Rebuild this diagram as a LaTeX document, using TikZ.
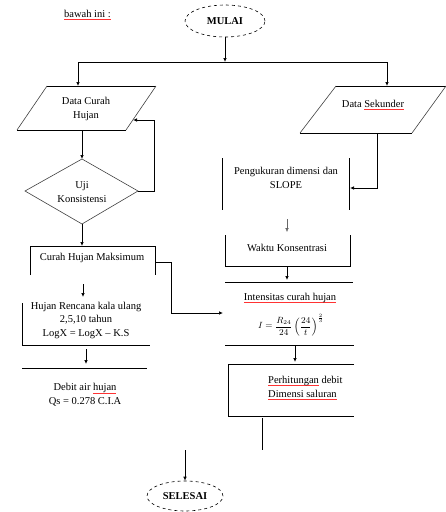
\documentclass[tikz,border=0pt]{standalone}
\usepackage{fontspec}
\setmainfont{Liberation Serif}
\usetikzlibrary{arrows.meta,shapes.geometric}
\newsavebox\spellbox
\newcommand\spellmark[1]{\sbox\spellbox{#1}\leavevmode\rlap{\textcolor{red!80}{\rule[-2.2pt]{\wd\spellbox}{0.45pt}}}\usebox\spellbox}
\begin{document}
\begin{tikzpicture}[x=1pt,y=-1pt,
  txt/.style={font=\fontsize{10.5}{14}\selectfont,align=center,inner sep=0pt},
  term/.style={ellipse,draw,dashed,line width=0.6pt,font=\fontsize{10.5}{13}\selectfont\bfseries,inner sep=0pt},
  edge/.style={line width=0.7pt},
  side/.style={line width=0.6pt,black!75},
  arr/.style={line width=0.7pt,-{Latex[length=4pt,width=3.5pt]}},
  thinarr/.style={line width=0.4pt,black!60,-{Latex[length=4pt,width=3.5pt]}}]
\useasboundingbox (0,0) rectangle (446,512);

% header text
\node[txt,anchor=west] (bawah) at (64,15) {\spellmark{bawah ini :}};

% start
\node[term,minimum width=80pt,minimum height=32pt] (mulai) at (225,21) {MULAI};
\coordinate (split) at (225,62);
\coordinate (splitL) at (78,62);
\coordinate (splitR) at (387,62);
\draw[arr] (mulai.south) -- (split);
\draw[edge] (splitL) -- (splitR);

% left parallelogram
\coordinate (pTL) at (47,86); \coordinate (pTR) at (156,86);
\coordinate (pBR) at (126,130); \coordinate (pBL) at (17,130);
\draw[edge] (pTL) -- (pTR); \draw[edge] (pBL) -- (pBR);
\draw[side] (pTL) -- (pBL); \draw[side] (pTR) -- (pBR);
\node[txt] (dch) at (86,109) {Data Curah\\Hujan};
\draw[arr] (splitL) -- (78,86);

% diamond
\coordinate (dT) at (82,159); \coordinate (dB) at (82,224);
\coordinate (dL) at (25,191); \coordinate (dR) at (138,191);
\draw[side] (dT) -- (dR) -- (dB) -- (dL) -- cycle;
\node[txt] (uji) at (82,192) {Uji\\Konsistensi};
\draw[arr] (82,130) -- (dT);
\coordinate (fb1) at (154,191); \coordinate (fb2) at (154,120);
\coordinate (fbT) at (133,120);
\draw[arr] (dR) -- (fb1) -- (fb2) -- (fbT);

% Curah hujan maksimum
\coordinate (cTL) at (30,246); \coordinate (cTR) at (155,246);
\draw[edge] (30,275) -- (cTL) -- (cTR) -- (155,275);
\node[txt] (chm) at (92,258) {Curah Hujan Maksimum};
\draw[arr] (dB) -- (82,246);
\coordinate (c1) at (155,262); \coordinate (c2) at (171,262);
\coordinate (c3) at (171,313); \coordinate (c4) at (223,313);
\draw[arr] (c1) -- (c2) -- (c3) -- (c4);

% Hujan rencana
\draw[arr] (83,284) -- (83,297);
\draw[edge] (22,303) -- (22,345) -- (150,345);
\node[txt,font=\fontsize{10.5}{13.5}\selectfont] (hr) at (86,320) {Hujan Rencana kala ulang\\2,5,10 tahun\\LogX = LogX -- K.S};

% Debit air hujan
\draw[arr] (86,349) -- (86,364);
\draw[edge] (22,368) -- (147,368);
\node[txt] (deb) at (85,395) {Debit air \spellmark{hujan}\\Qs = 0.278 C.I.A};

% right parallelogram
\coordinate (qTL) at (336,86); \coordinate (qTR) at (446,86);
\coordinate (qBR) at (412,133); \coordinate (qBL) at (300,133);
\draw[edge] (qTL) -- (qTR); \draw[edge] (qBL) -- (qBR);
\draw[side] (qTL) -- (qBL); \draw[side] (446,86) -- (qBR);
\node[txt] (ds) at (373,105) {Data \spellmark{Sekunder}};
\draw[arr] (splitR) -- (387,86);

% Pengukuran
\draw[edge] (222,158) -- (222,210);
\draw[edge] (349,158) -- (349,210);
\node[txt] (peng) at (286,178) {Pengukuran dimensi dan\\SLOPE};
\coordinate (r1) at (377,133); \coordinate (r2) at (377,188); \coordinate (r3) at (350,188);
\draw[arr] (r1) -- (r2) -- (r3);

% Waktu konsentrasi
\draw[thinarr] (287,219) -- (287,232);
\draw[edge] (225,235) -- (225,266) -- (350,266) -- (350,235);
\node[txt] (wk) at (287,248) {Waktu Konsentrasi};

% Intensitas
\draw[arr] (287,266) -- (287,280);
\draw[edge] (225,282) -- (353,282);
\node[txt] (int) at (290,298) {\spellmark{Intensitas curah hujan}};
\node[txt,font=\fontsize{9}{11}\selectfont] (form) at (291,325) {$\displaystyle I=\frac{R_{24}}{24}\left(\frac{24}{t}\right)^{\frac{2}{3}}$};
\draw[edge] (225,345) -- (354,345);

% Perhitungan
\draw[arr] (295,345) -- (295,362);
\draw[edge] (354,364) -- (228,364) -- (228,416) -- (354,416);
\node[txt,align=left,anchor=west] (perh) at (268,388) {\spellmark{Perhitungan} debit\\\spellmark{Dimensi saluran}};
\draw[edge] (262,418) -- (262,450);

% end
\coordinate (e1) at (185,450);
\node[term,minimum width=76pt,minimum height=30pt] (selesai) at (185,496) {SELESAI};
\draw[arr] (e1) -- (selesai.north);
\end{tikzpicture}
\end{document}
